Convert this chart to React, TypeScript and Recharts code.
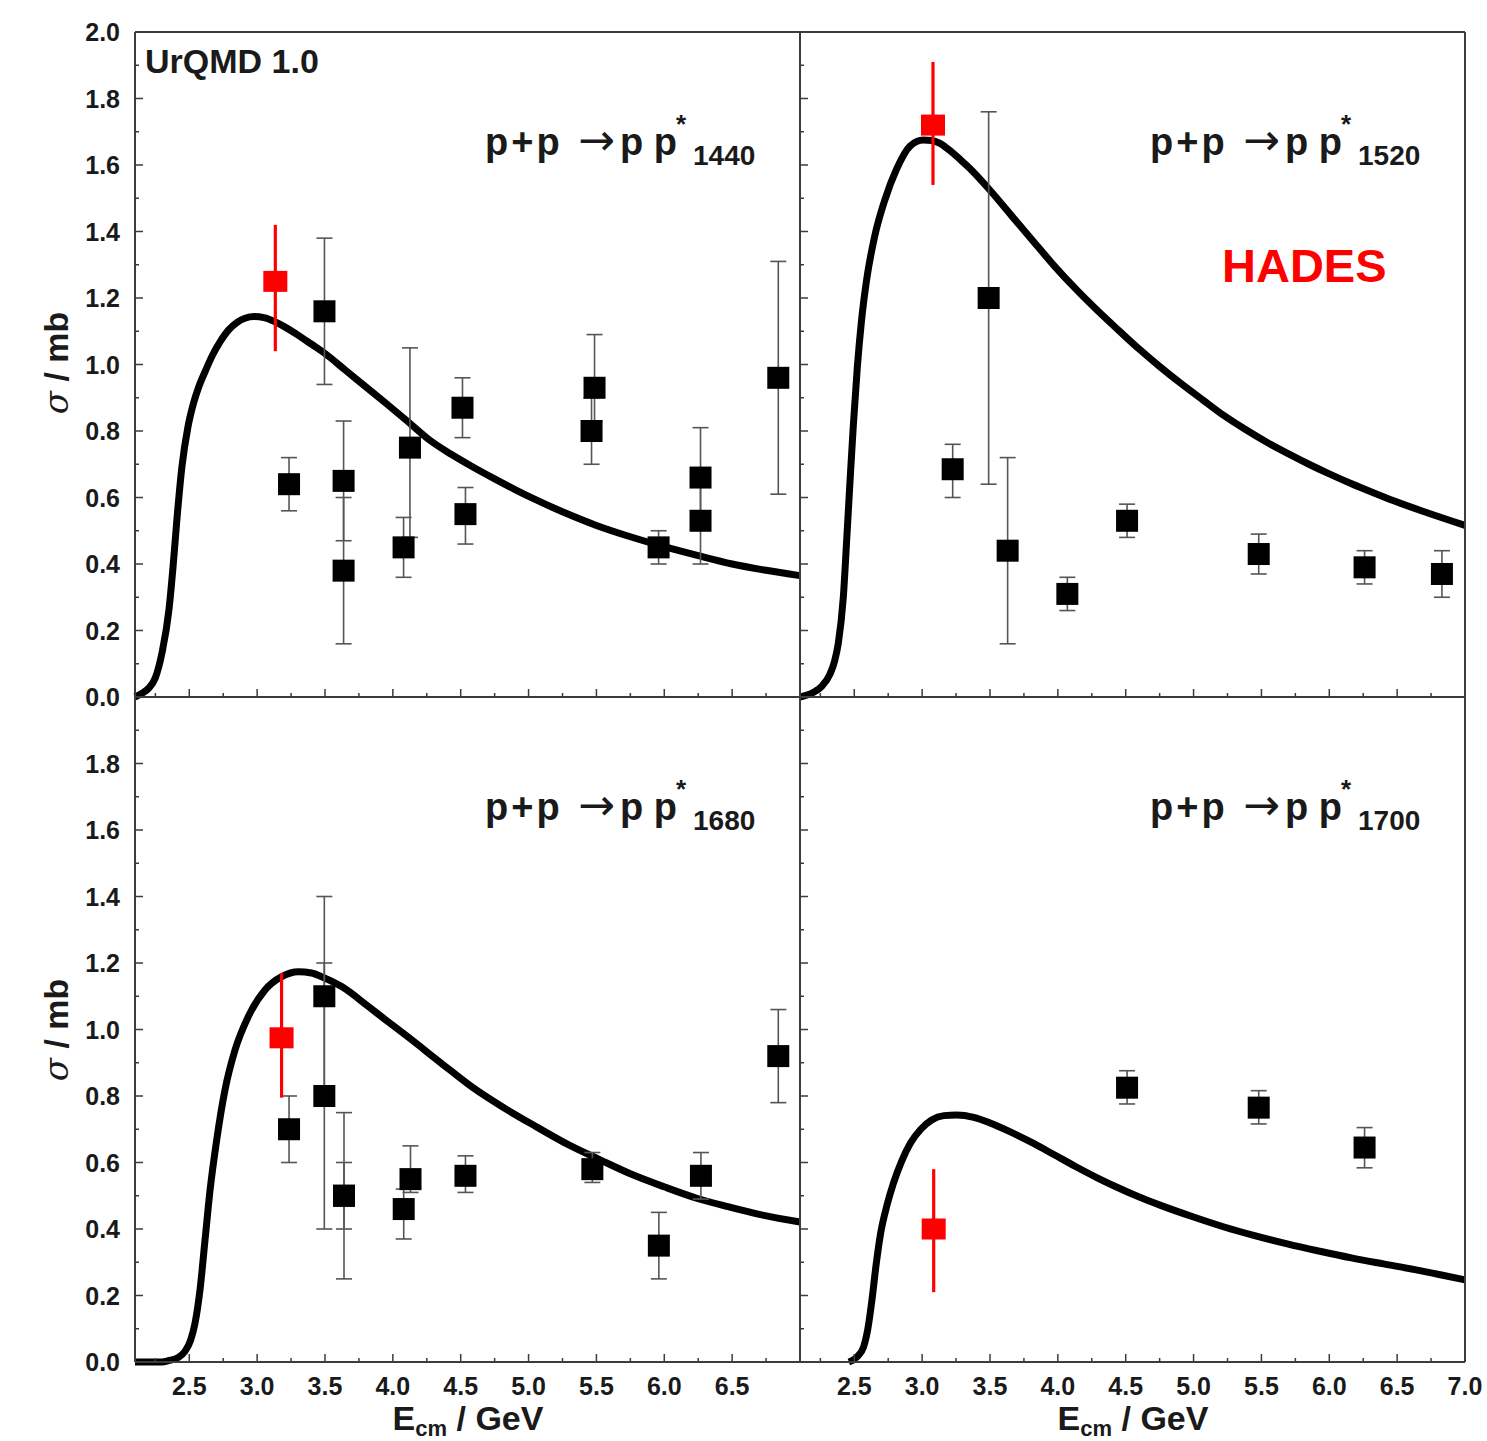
import React from 'react';
import { ComposedChart, Line, Scatter, XAxis, YAxis, ErrorBar } from 'recharts';

// ---------- axes ----------
const X_DOMAIN: [number, number] = [2.1, 7.0];
const Y_DOMAIN: [number, number] = [0, 2.0];
const X_MAJOR = [2.5, 3.0, 3.5, 4.0, 4.5, 5.0, 5.5, 6.0, 6.5, 7.0];
const X_MINOR = [2.25, 2.75, 3.25, 3.75, 4.25, 4.75, 5.25, 5.75, 6.25, 6.75];
const Y_MAJOR = [0, 0.2, 0.4, 0.6, 0.8, 1.0, 1.2, 1.4, 1.6, 1.8, 2.0];
const Y_MINOR = [0.1, 0.3, 0.5, 0.7, 0.9, 1.1, 1.3, 1.5, 1.7, 1.9];
const X_LABELS_LEFT = [2.5, 3.0, 3.5, 4.0, 4.5, 5.0, 5.5, 6.0, 6.5];
const X_LABELS_RIGHT = [2.5, 3.0, 3.5, 4.0, 4.5, 5.0, 5.5, 6.0, 6.5, 7.0];
const Y_LABELS_TOP = [0, 0.2, 0.4, 0.6, 0.8, 1.0, 1.2, 1.4, 1.6, 1.8, 2.0];
const Y_LABELS_BOTTOM = [0, 0.2, 0.4, 0.6, 0.8, 1.0, 1.2, 1.4, 1.6, 1.8];

// ---------- p p*1440 ----------
const c1440X = [2.1, 2.15, 2.2, 2.25, 2.3, 2.35, 2.38, 2.41, 2.445, 2.49, 2.53, 2.57, 2.62, 2.67, 2.73, 2.79, 2.85, 2.91, 2.98, 3.05, 3.13, 3.2, 3.28, 3.35, 3.43, 3.5, 3.65, 3.8, 3.95, 4.1, 4.27, 4.43, 4.58, 4.75, 4.9, 5.06, 5.25, 5.5, 5.75, 6.0, 6.25, 6.5, 6.75, 7.0];
const c1440Y = [0.0, 0.011, 0.026, 0.058, 0.135, 0.262, 0.39, 0.54, 0.69, 0.812, 0.882, 0.933, 0.982, 1.027, 1.07, 1.104, 1.126, 1.139, 1.144, 1.141, 1.129, 1.114, 1.094, 1.075, 1.053, 1.033, 0.983, 0.933, 0.883, 0.832, 0.773, 0.73, 0.694, 0.656, 0.624, 0.592, 0.557, 0.516, 0.482, 0.452, 0.425, 0.4, 0.381, 0.365];
const d1440X = [3.235, 3.496, 3.637, 3.637, 4.079, 4.126, 4.513, 4.535, 5.464, 5.486, 5.958, 6.267, 6.267, 6.84];
const d1440Y = [0.64, 1.16, 0.65, 0.38, 0.45, 0.75, 0.87, 0.55, 0.80, 0.93, 0.45, 0.66, 0.53, 0.96];
const d1440Lo = [0.56, 0.94, 0.47, 0.16, 0.36, 0.48, 0.78, 0.46, 0.70, 0.83, 0.40, 0.53, 0.40, 0.61];
const d1440Hi = [0.72, 1.38, 0.83, 0.60, 0.54, 1.05, 0.96, 0.63, 0.90, 1.09, 0.50, 0.81, 0.66, 1.31];
const h1440X = [3.134];
const h1440Y = [1.25];
const h1440Lo = [1.04];
const h1440Hi = [1.42];

// ---------- p p*1520 ----------
const c1520X = [2.1, 2.2, 2.26, 2.32, 2.355, 2.382, 2.419, 2.444, 2.468, 2.493, 2.522, 2.554, 2.591, 2.65, 2.726, 2.812, 2.911, 3.009, 3.07, 3.132, 3.2, 3.279, 3.35, 3.5, 3.66, 3.82, 3.975, 4.13, 4.29, 4.45, 4.6, 4.75, 4.91, 5.07, 5.225, 5.38, 5.54, 5.7, 5.85, 6.0, 6.16, 6.32, 6.475, 6.7, 7.0];
const c1520Y = [0, 0.014, 0.032, 0.068, 0.108, 0.161, 0.299, 0.472, 0.645, 0.817, 0.99, 1.135, 1.255, 1.385, 1.496, 1.588, 1.657, 1.675, 1.674, 1.665, 1.645, 1.617, 1.59, 1.524, 1.447, 1.37, 1.296, 1.228, 1.163, 1.102, 1.046, 0.994, 0.942, 0.893, 0.846, 0.805, 0.766, 0.731, 0.7, 0.671, 0.642, 0.615, 0.59, 0.557, 0.516];
const d1520X = [3.225, 3.49, 3.63, 4.07, 4.51, 5.48, 6.26, 6.83];
const d1520Y = [0.685, 1.20, 0.44, 0.31, 0.53, 0.43, 0.39, 0.37];
const d1520Lo = [0.60, 0.64, 0.16, 0.26, 0.48, 0.37, 0.34, 0.30];
const d1520Hi = [0.76, 1.76, 0.72, 0.36, 0.58, 0.49, 0.44, 0.44];
const h1520X = [3.08];
const h1520Y = [1.72];
const h1520Lo = [1.54];
const h1520Hi = [1.91];

// ---------- p p*1680 ----------
const c1680X = [2.1, 2.3, 2.346, 2.42, 2.468, 2.51, 2.542, 2.579, 2.616, 2.653, 2.702, 2.763, 2.837, 2.935, 3.058, 3.181, 3.304, 3.4, 3.476, 3.623, 3.82, 3.95, 4.11, 4.35, 4.58, 4.8, 5.055, 5.3, 5.527, 5.75, 5.998, 6.25, 6.47, 6.7, 7.0];
const c1680Y = [0, 0, 0.004, 0.014, 0.032, 0.066, 0.116, 0.217, 0.367, 0.517, 0.668, 0.818, 0.938, 1.039, 1.119, 1.159, 1.174, 1.17, 1.159, 1.129, 1.069, 1.028, 0.978, 0.901, 0.828, 0.769, 0.708, 0.652, 0.608, 0.566, 0.527, 0.491, 0.467, 0.444, 0.421];
const d1680X = [3.235, 3.495, 3.495, 3.64, 3.64, 4.08, 4.13, 4.535, 5.47, 5.96, 6.27, 6.84];
const d1680Y = [0.70, 1.10, 0.80, 0.50, 0.50, 0.46, 0.55, 0.56, 0.58, 0.35, 0.56, 0.92];
const d1680Lo = [0.60, 0.80, 0.40, 0.25, 0.40, 0.37, 0.51, 0.51, 0.54, 0.25, 0.49, 0.78];
const d1680Hi = [0.80, 1.40, 1.20, 0.75, 0.60, 0.52, 0.65, 0.62, 0.63, 0.45, 0.63, 1.06];
const h1680X = [3.18];
const h1680Y = [0.975];
const h1680Lo = [0.795];
const h1680Hi = [1.17];

// ---------- p p*1700 ----------
const c1700X = [2.46, 2.52, 2.569, 2.6, 2.63, 2.66, 2.694, 2.74, 2.788, 2.85, 2.913, 2.99, 3.07, 3.16, 3.256, 3.38, 3.506, 3.65, 3.818, 3.97, 4.13, 4.29, 4.444, 4.6, 4.757, 5.0, 5.225, 5.45, 5.69, 5.93, 6.163, 6.4, 6.63, 6.8, 7.0];
const c1700Y = [0.0, 0.015, 0.046, 0.1, 0.186, 0.29, 0.387, 0.47, 0.537, 0.605, 0.658, 0.7, 0.728, 0.741, 0.743, 0.736, 0.718, 0.692, 0.658, 0.624, 0.588, 0.554, 0.524, 0.496, 0.471, 0.436, 0.406, 0.38, 0.355, 0.333, 0.313, 0.295, 0.278, 0.264, 0.247];
const d1700X = [4.51, 5.48, 6.26];
const d1700Y = [0.825, 0.765, 0.645];
const d1700Lo = [0.776, 0.716, 0.584];
const d1700Hi = [0.876, 0.816, 0.705];
const h1700X = [3.085];
const h1700Y = [0.40];
const h1700Lo = [0.21];
const h1700Hi = [0.58];

// ---------- helpers ----------
const curve = (xs: number[], ys: number[]) => xs.map((x, i) => ({ x, y: ys[i] }));
const points = (xs: number[], ys: number[], lo: number[], hi: number[]) =>
  xs.map((x, i) => ({ x, y: ys[i], err: [ys[i] - lo[i], hi[i] - ys[i]] }));

const FONT = "'Liberation Sans', Arial, sans-serif";
const AXIS_COLOR = '#3c3c3c';
const TEXT_COLOR = '#1a1a1a';
const PLOT = 665;
const YW = 135;
const YRW = 22;
const XTH = 32;
const XBH = 78;

const isMajorX = (v: number) => Math.abs(v * 2 - Math.round(v * 2)) < 1e-6;
const isMajorY = (v: number) => Math.abs(v * 5 - Math.round(v * 5)) < 1e-6;
const has = (arr: number[], v: number) => arr.some((a) => Math.abs(a - v) < 1e-6);

const BlackSquare = (p: any) => (
  <rect x={p.cx - 11} y={p.cy - 11} width={22} height={22} fill="#000" />
);
const RedSquare = (p: any) => (
  <rect x={p.cx - 12} y={p.cy - 10.5} width={24} height={21} fill="#ff0000" />
);

type PanelProps = {
  left: number;
  top: number;
  curveData: { x: number; y: number }[];
  black: any[];
  red: any[];
  xLabels: number[];
  yLabels: number[];
};

function Panel({ left, top, curveData, black, red, xLabels, yLabels }: PanelProps) {
  const bottomTick = (p: any) => {
    const v = p.payload.value;
    const len = isMajorX(v) ? 8 : 4;
    return (
      <g>
        <line x1={p.x} x2={p.x} y1={p.y} y2={p.y - len} stroke={AXIS_COLOR} strokeWidth={1.5} />
        {has(xLabels, v) && (
          <text x={p.x} y={p.y + 33} textAnchor="middle" fontFamily={FONT} fontWeight="bold" fontSize={25} fill={TEXT_COLOR}>
            {v.toFixed(1)}
          </text>
        )}
      </g>
    );
  };
  const topTick = (p: any) => {
    const v = p.payload.value;
    const len = isMajorX(v) ? 8 : 4;
    return <line x1={p.x} x2={p.x} y1={p.y} y2={p.y + len} stroke={AXIS_COLOR} strokeWidth={1.5} />;
  };
  const leftTick = (p: any) => {
    const v = p.payload.value;
    const len = isMajorY(v) ? 8 : 4;
    return (
      <g>
        <line x1={p.x} x2={p.x + len} y1={p.y} y2={p.y} stroke={AXIS_COLOR} strokeWidth={1.5} />
        {has(yLabels, v) && (
          <text x={p.x - 15} y={p.y + 9} textAnchor="end" fontFamily={FONT} fontWeight="bold" fontSize={25} fill={TEXT_COLOR}>
            {v.toFixed(1)}
          </text>
        )}
      </g>
    );
  };
  const rightTick = (p: any) => {
    const v = p.payload.value;
    const len = isMajorY(v) ? 8 : 4;
    return <line x1={p.x} x2={p.x - len} y1={p.y} y2={p.y} stroke={AXIS_COLOR} strokeWidth={1.5} />;
  };
  const xTicks = [...X_MAJOR, ...X_MINOR].sort((a, b) => a - b);
  const yTicks = [...Y_MAJOR, ...Y_MINOR].sort((a, b) => a - b);
  const axisLine = { stroke: AXIS_COLOR, strokeWidth: 2 };
  return (
    <div style={{ position: 'absolute', left: left - YW, top: top - XTH }}>
      <ComposedChart width={YW + PLOT + YRW} height={XTH + PLOT + XBH} margin={{ top: 0, right: 0, bottom: 0, left: 0 }}>
        <XAxis xAxisId="b" type="number" dataKey="x" domain={X_DOMAIN} ticks={xTicks} interval={0} orientation="bottom" height={XBH} tickSize={0} tickMargin={0} tickLine={false} axisLine={axisLine} tick={bottomTick} />
        <XAxis xAxisId="t" type="number" dataKey="x" domain={X_DOMAIN} ticks={xTicks} interval={0} orientation="top" height={XTH} tickSize={0} tickMargin={0} tickLine={false} axisLine={axisLine} tick={topTick} />
        <YAxis yAxisId="l" type="number" dataKey="y" domain={Y_DOMAIN} ticks={yTicks} interval={0} orientation="left" width={YW} tickSize={0} tickMargin={0} tickLine={false} axisLine={axisLine} tick={leftTick} />
        <YAxis yAxisId="r" type="number" dataKey="y" domain={Y_DOMAIN} ticks={yTicks} interval={0} orientation="right" width={YRW} tickSize={0} tickMargin={0} tickLine={false} axisLine={axisLine} tick={rightTick} />
        <Line xAxisId="b" yAxisId="l" data={curveData} dataKey="y" type="monotone" stroke="#000" strokeWidth={7} dot={false} activeDot={false} isAnimationActive={false} />
        <Scatter xAxisId="b" yAxisId="l" data={black} dataKey="y" shape={BlackSquare} isAnimationActive={false}>
          <ErrorBar dataKey="err" direction="y" width={8} stroke="#555" strokeWidth={1.6} />
        </Scatter>
        <Scatter xAxisId="b" yAxisId="l" data={red} dataKey="y" shape={RedSquare} isAnimationActive={false}>
          <ErrorBar dataKey="err" direction="y" width={0} stroke="#ff0000" strokeWidth={3.2} />
        </Scatter>
      </ComposedChart>
    </div>
  );
}

function Reaction({ x, y, sub }: { x: number; y: number; sub: string }) {
  return (
    <text y={y} fontFamily={FONT} fontWeight="bold" fontSize={38} fill={TEXT_COLOR}>
      <tspan x={x} letterSpacing={3}>p+p</tspan>
      <tspan x={x + 93} fontWeight="normal" fontFamily="'DejaVu Sans'" fontSize={44}>→</tspan>
      <tspan x={x + 135}>p p</tspan>
      <tspan x={x + 191} y={y - 22} fontSize={26}>*</tspan>
      <tspan x={x + 208} y={y + 10} fontSize={28}>{sub}</tspan>
    </text>
  );
}

function YLabel({ cx, cy }: { cx: number; cy: number }) {
  return (
    <text transform={`translate(${cx}, ${cy}) rotate(-90)`} x={0} y={0} textAnchor="middle" fontFamily={FONT} fontWeight="bold" fontSize={34} fill={TEXT_COLOR}>
      <tspan fontFamily="'DejaVu Serif'" fontStyle="italic" fontWeight="normal">σ</tspan>
      <tspan> / mb</tspan>
    </text>
  );
}

function XLabel({ cx, y }: { cx: number; y: number }) {
  return (
    <text x={cx} y={y} textAnchor="middle" fontFamily={FONT} fontWeight="bold" fontSize={34} fill={TEXT_COLOR}>
      E<tspan dy={6} fontSize={22}>cm</tspan>
      <tspan dy={-6}> / GeV</tspan>
    </text>
  );
}

export default function App() {
  return (
    <div style={{ position: 'absolute', left: 0, top: 0, width: 1487, height: 1441, overflow: 'hidden', background: '#fff' }}>
      <Panel left={135} top={32} curveData={curve(c1440X, c1440Y)} black={points(d1440X, d1440Y, d1440Lo, d1440Hi)} red={points(h1440X, h1440Y, h1440Lo, h1440Hi)} xLabels={[]} yLabels={Y_LABELS_TOP} />
      <Panel left={800} top={32} curveData={curve(c1520X, c1520Y)} black={points(d1520X, d1520Y, d1520Lo, d1520Hi)} red={points(h1520X, h1520Y, h1520Lo, h1520Hi)} xLabels={[]} yLabels={[]} />
      <Panel left={135} top={697} curveData={curve(c1680X, c1680Y)} black={points(d1680X, d1680Y, d1680Lo, d1680Hi)} red={points(h1680X, h1680Y, h1680Lo, h1680Hi)} xLabels={X_LABELS_LEFT} yLabels={Y_LABELS_BOTTOM} />
      <Panel left={800} top={697} curveData={curve(c1700X, c1700Y)} black={points(d1700X, d1700Y, d1700Lo, d1700Hi)} red={points(h1700X, h1700Y, h1700Lo, h1700Hi)} xLabels={X_LABELS_RIGHT} yLabels={[]} />
      <svg width={1487} height={1441} style={{ position: 'absolute', left: 0, top: 0, pointerEvents: 'none' }}>
        <text x={145} y={73} fontFamily={FONT} fontWeight="bold" fontSize={34} fill={TEXT_COLOR}>UrQMD 1.0</text>
        <text x={1222} y={282} fontFamily={FONT} fontWeight="bold" fontSize={47} fill="#ff0000">HADES</text>
        <Reaction x={485} y={155} sub="1440" />
        <Reaction x={1150} y={155} sub="1520" />
        <Reaction x={485} y={820} sub="1680" />
        <Reaction x={1150} y={820} sub="1700" />
        <YLabel cx={68} cy={363} />
        <YLabel cx={68} cy={1030} />
        <XLabel cx={468} y={1430} />
        <XLabel cx={1133} y={1430} />
      </svg>
    </div>
  );
}
